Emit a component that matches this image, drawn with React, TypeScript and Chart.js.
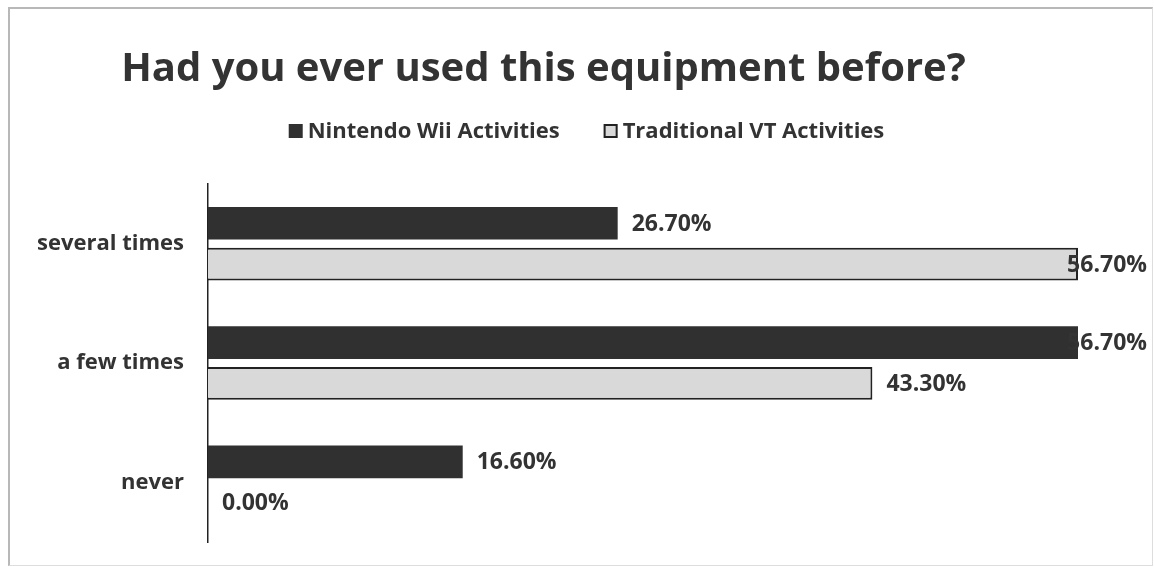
import React, { useEffect, useRef } from "react";
import { Chart, registerables } from "chart.js";

Chart.register(...registerables);

const categories = ["several times", "a few times", "never"];
const wiiValues = [26.7, 56.7, 16.6];
const vtValues = [56.7, 43.3, 0.0];
const seriesNames = ["Nintendo Wii Activities", "Traditional VT Activities"];
const titleText = "Had you ever used this equipment before?";
const axisMax = 56.7;

const FONT = "'Open Sans', Lato, sans-serif";
const TEXT = "#333333";

const titlePlugin = {
  id: "customTitle",
  afterDraw(chart: any) {
    const ctx = chart.ctx;
    ctx.save();
    ctx.font = `bold 40px ${FONT}`;
    ctx.fillStyle = TEXT;
    ctx.textAlign = "center";
    ctx.textBaseline = "alphabetic";
    ctx.fillText(titleText, 533.5, 72);
    ctx.restore();
  },
};

const legendPlugin = {
  id: "customLegend",
  afterDraw(chart: any) {
    const ctx = chart.ctx;
    ctx.save();
    ctx.font = `bold 22px ${FONT}`;
    const box = 14;
    const boxGap = 5;
    const itemGap = 44;
    const ds = chart.data.datasets;
    const widths = ds.map((d: any) => box + boxGap + ctx.measureText(d.label).width);
    const total = widths.reduce((a: number, b: number) => a + b, 0) + itemGap * (ds.length - 1);
    let x = 576.5 - total / 2;
    const cy = 122;
    ds.forEach((d: any, i: number) => {
      ctx.fillStyle = d.backgroundColor;
      ctx.fillRect(x, cy - box / 2, box, box);
      if (d.borderWidth) {
        ctx.strokeStyle = d.borderColor;
        ctx.lineWidth = 2;
        ctx.strokeRect(x + 1, cy - box / 2 + 1, box - 2, box - 2);
      }
      ctx.fillStyle = TEXT;
      ctx.textAlign = "left";
      ctx.textBaseline = "middle";
      ctx.fillText(d.label, x + box + boxGap, cy + 1);
      x += widths[i] + itemGap;
    });
    ctx.restore();
  },
};

const valueLabelPlugin = {
  id: "valueLabels",
  afterDatasetsDraw(chart: any) {
    const ctx = chart.ctx;
    ctx.save();
    ctx.font = `bold 23px ${FONT}`;
    ctx.fillStyle = TEXT;
    ctx.textAlign = "left";
    ctx.textBaseline = "middle";
    chart.data.datasets.forEach((d: any, i: number) => {
      const meta = chart.getDatasetMeta(i);
      meta.data.forEach((bar: any, j: number) => {
        const { x, y } = bar.getProps(["x", "y"], true);
        const text = Number(d.data[j]).toFixed(2) + "%";
        const w = ctx.measureText(text).width;
        let tx = x + 14;
        if (tx + w > chart.width - 5) tx = chart.width - 5 - w;
        ctx.fillText(text, tx, y + 1);
      });
    });
    ctx.restore();
  },
};

export default function App() {
  const ref = useRef<HTMLCanvasElement | null>(null);

  useEffect(() => {
    if (!ref.current) return;
    const chart = new Chart(ref.current, {
      type: "bar",
      data: {
        labels: categories,
        datasets: [
          {
            label: seriesNames[0],
            data: wiiValues,
            backgroundColor: "#303030",
            borderWidth: 0,
            categoryPercentage: 0.685,
            barPercentage: 0.8,
          },
          {
            label: seriesNames[1],
            data: vtValues,
            backgroundColor: "#d9d9d9",
            borderColor: "#222222",
            borderWidth: 2,
            categoryPercentage: 0.685,
            barPercentage: 0.8,
          },
        ],
      },
      options: {
        indexAxis: "y",
        animation: false,
        responsive: false,
        maintainAspectRatio: false,
        layout: { padding: { top: 175, bottom: 23, left: 0, right: 74 } },
        plugins: {
          legend: { display: false },
          title: { display: false },
          tooltip: { enabled: false },
        },
        scales: {
          x: { display: false, min: 0, max: axisMax },
          y: {
            grid: { display: true, drawOnChartArea: false, drawTicks: false },
            border: { display: true, color: "#222222", width: 1.5 },
            ticks: {
              color: TEXT,
              font: { family: FONT, size: 22, weight: "bold" },
              padding: 24,
            },
            afterFit(scale: any) {
              scale.width = 198;
              scale.paddingTop = 0;
              scale.paddingBottom = 0;
            },
          },
        },
      },
      plugins: [titlePlugin, legendPlugin, valueLabelPlugin],
    } as any);
    return () => chart.destroy();
  }, []);

  return (
    <div
      style={{
        position: "absolute",
        left: 8,
        top: 7,
        width: 1145,
        height: 559,
        boxSizing: "border-box",
        borderTop: "2px solid #b8b8b8",
        borderLeft: "2px solid #b8b8b8",
        borderRight: "1px solid #dddddd",
        borderBottom: "1px solid #dddddd",
        background: "#ffffff",
      }}
    >
      <canvas ref={ref} width={1142} height={556} style={{ display: "block", width: 1142, height: 556 }} />
    </div>
  );
}
